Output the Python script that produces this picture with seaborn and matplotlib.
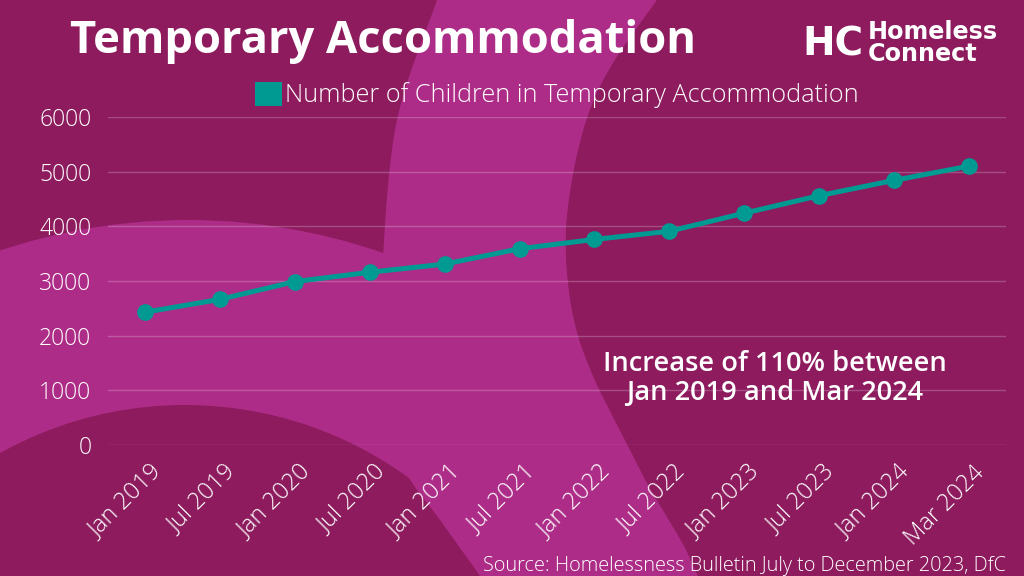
import numpy as np
import pandas as pd
import matplotlib
matplotlib.use("Agg")
import matplotlib.pyplot as plt
import seaborn as sns
from matplotlib.patches import Circle, Polygon, Patch
from matplotlib.transforms import ScaledTranslation

# data
months = ["Jan 2019", "Jul 2019", "Jan 2020", "Jul 2020", "Jan 2021", "Jul 2021",
          "Jan 2022", "Jul 2022", "Jan 2023", "Jul 2023", "Jan 2024", "Mar 2024"]
children = [2430, 2665, 2990, 3160, 3310, 3590, 3760, 3910, 4240, 4560, 4840, 5100]
y_ticks = [0, 1000, 2000, 3000, 4000, 5000, 6000]

title = "Temporary Accommodation"
series_name = "Number of Children in Temporary Accommodation"
note = ["Increase of 110% between", "Jan 2019 and Mar 2024"]
source = "Source: Homelessness Bulletin July to December 2023, DfC"

DARK = "#8d1b5e"
LIGHT = "#ad2c87"
TEAL = "#009a93"

sns.set_style("white")
plt.rcParams["font.family"] = ["Open Sans", "DejaVu Sans"]

df = pd.DataFrame({"month": months, "children": children})

fig = plt.figure(figsize=(10.24, 5.76), dpi=100, facecolor=DARK)

# background decoration, drawn in pixel coordinates
bg = fig.add_axes([0, 0, 1, 1], zorder=0)
bg.set_xlim(0, 1024)
bg.set_ylim(576, 0)
bg.axis("off")


def smooth(pts, n=16):
    p = np.asarray(pts, float)
    p = np.vstack([p[0], p, p[-1]])
    out = []
    t = np.linspace(0, 1, n, endpoint=False)[:, None]
    for i in range(1, len(p) - 2):
        p0, p1, p2, p3 = p[i - 1], p[i], p[i + 1], p[i + 2]
        out.append(0.5 * (2 * p1 + (-p0 + p2) * t + (2 * p0 - 5 * p1 + 4 * p2 - p3) * t ** 2
                          + (-p0 + 3 * p1 - 3 * p2 + p3) * t ** 3))
    out.append(p[-2][None])
    return np.vstack(out)


outer_edge = [(447, -30), (437, 0), (397, 120), (383, 257), (384, 330), (390, 410),
              (405, 470), (440, 520), (480, 576), (495, 600)]
inner_edge = [(669, -20), (657, 0), (615, 60), (590, 110), (574, 170), (566, 233),
              (569, 290), (578, 335), (594, 378), (612, 415), (630, 450), (648, 485),
              (667, 517), (685, 548), (698, 576), (712, 600)]
outer = smooth(outer_edge)
inner = smooth(inner_edge)

bg.add_patch(Circle((188, 815), 595, color=LIGHT, lw=0))
bg.add_patch(Circle((185, 785), 380, color=DARK, lw=0))
bg.add_patch(Polygon(np.vstack([outer, inner[::-1]]), closed=True, color=LIGHT, lw=0))
bg.add_patch(Polygon(np.vstack([inner, [(1100, 600), (1100, -30)]]), closed=True, color=DARK, lw=0))

# main chart
ax = fig.add_axes([108 / 1024, 1 - 445 / 576, 898 / 1024, 328 / 576], zorder=2)
ax.patch.set_alpha(0)
sns.lineplot(data=df, x="month", y="children", ax=ax, sort=False, color=TEAL,
             linewidth=3.6, marker="o", markersize=12, markeredgewidth=0, legend=False)
ax.set_xlim(-0.5, len(months) - 0.5)
ax.set_ylim(0, 6000)
ax.set_yticks(y_ticks)
ax.set_xticks(range(len(months)))
ax.set_xticklabels(months)
ax.set_xlabel("")
ax.set_ylabel("")
for s in ax.spines.values():
    s.set_visible(False)
ax.grid(axis="y", color="white", alpha=0.22, linewidth=1)
ax.grid(axis="x", visible=False)
ax.tick_params(axis="y", length=0, pad=12, labelsize=16.5, labelcolor="white")
ax.tick_params(axis="x", length=0, pad=11.5, labelsize=17, labelcolor="white")
for lab in ax.get_yticklabels():
    lab.set_fontweight("light")
for lab in ax.get_xticklabels():
    lab.set_fontweight("light")
    lab.set_rotation(45)
    lab.set_ha("right")
    lab.set_va("top")
    lab.set_rotation_mode("anchor")
    lab.set_transform(lab.get_transform() + ScaledTranslation(0.04, 0, fig.dpi_scale_trans))

renderer = fig.canvas.get_renderer()


def fit(t, width):
    bb = t.get_window_extent(renderer)
    t.set_fontsize(t.get_fontsize() * width / bb.width)
    return t.get_fontsize()


# legend, sized so its label spans the same width as in the reference
probe = fig.text(0, 0, series_name, fontsize=16, fontweight="light")
leg_fs = fit(probe, 573)
probe.remove()
sq = 27 / (leg_fs * 100 / 72)
ax.legend(handles=[Patch(facecolor=TEAL, edgecolor="none", label=series_name)], loc="center",
          bbox_to_anchor=(0.5, 1 + 22 / 328), frameon=False, handlelength=sq,
          handleheight=sq, handletextpad=0.12, borderaxespad=0, labelcolor="white",
          prop={"size": leg_fs, "weight": "light"})

# titles and notes
t = bg.text(70, 53, title, color="white", fontsize=30, fontweight="bold", va="baseline")
fit(t, 627)

n1 = bg.text(775, 371, note[0], color="white", fontsize=18, fontweight="semibold",
             ha="center", va="baseline")
fs = fit(n1, 343)
bg.text(775, 400, note[1], color="white", fontsize=fs, fontweight="semibold",
        ha="center", va="baseline")

src = bg.text(1006, 571, source, color="white", fontsize=13, fontweight="light",
              ha="right", va="baseline")
fit(src, 522)

# logo
bg.text(833, 56, "HC", color="white", fontsize=28, fontweight="bold", ha="center",
        va="baseline", family="DejaVu Sans")
h = bg.text(868, 39, "Homeless", color="white", fontsize=15, fontweight="bold",
            va="baseline", family="DejaVu Sans")
fs = fit(h, 131)
bg.text(868, 61, "Connect", color="white", fontsize=fs, fontweight="bold",
        va="baseline", family="DejaVu Sans")

fig.savefig("out.png", dpi=100, facecolor=DARK)
